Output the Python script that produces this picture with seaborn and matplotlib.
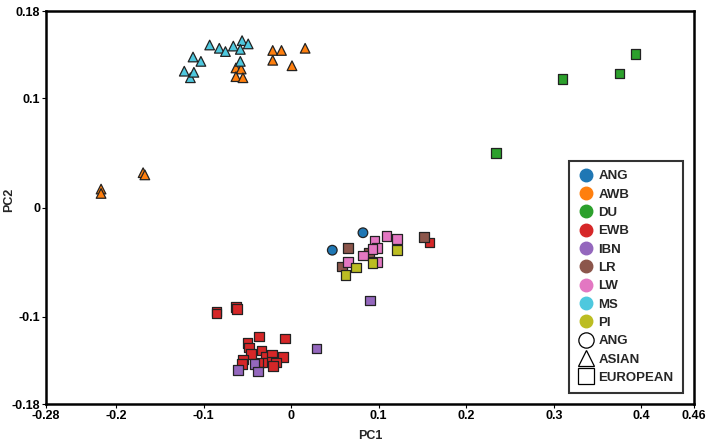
import matplotlib
matplotlib.use("Agg")
import matplotlib.pyplot as plt
from matplotlib.lines import Line2D
import pandas as pd
import seaborn as sns

# breed order and colours as in the legend
breeds = ["ANG", "AWB", "DU", "EWB", "IBN", "LR", "LW", "MS", "PI"]
colors = ["#1f77b4", "#ff7f0e", "#2ca02c", "#d62728", "#9467bd",
          "#8c564b", "#e377c2", "#4ec8de", "#bcbd22"]
origin = {"ANG": "ANG", "AWB": "ASIAN", "MS": "ASIAN", "DU": "EUROPEAN",
          "EWB": "EUROPEAN", "IBN": "EUROPEAN", "LR": "EUROPEAN",
          "LW": "EUROPEAN", "PI": "EUROPEAN"}
origins = ["ANG", "ASIAN", "EUROPEAN"]
markers = {"ANG": "o", "ASIAN": "^", "EUROPEAN": "s"}

# PC1 / PC2
ang_pc1 = [0.082, 0.047]
ang_pc2 = [-0.023, -0.039]
awb_pc1 = [-0.217, -0.217, -0.169, -0.167, -0.021, -0.011, 0.016, -0.021,
           0.001, -0.063, -0.057, -0.063, -0.055]
awb_pc2 = [0.017, 0.013, 0.032, 0.030, 0.144, 0.144, 0.146, 0.135,
           0.130, 0.128, 0.127, 0.120, 0.119]
du_pc1 = [0.393, 0.375, 0.310, 0.234]
du_pc2 = [0.141, 0.123, 0.118, 0.050]
ewb_pc1 = [-0.085, -0.085, -0.063, -0.062, -0.037, -0.050, -0.048, -0.007,
           -0.034, -0.046, -0.055, -0.056, -0.029, -0.022, -0.009, -0.035,
           -0.027, -0.022, -0.017, -0.021, 0.158]
ewb_pc2 = [-0.095, -0.097, -0.091, -0.093, -0.118, -0.124, -0.128, -0.120,
           -0.131, -0.134, -0.139, -0.143, -0.137, -0.135, -0.137, -0.142,
           -0.142, -0.141, -0.142, -0.145, -0.032]
ibn_pc1 = [0.029, -0.061, -0.042, -0.038, 0.090]
ibn_pc2 = [-0.129, -0.149, -0.143, -0.150, -0.085]
lr_pc1 = [0.065, 0.058, 0.152, 0.089]
lr_pc2 = [-0.037, -0.054, -0.027, -0.041]
lw_pc1 = [0.095, 0.109, 0.121, 0.098, 0.093, 0.082, 0.065, 0.098]
lw_pc2 = [-0.030, -0.026, -0.029, -0.037, -0.038, -0.044, -0.050, -0.050]
ms_pc1 = [-0.093, -0.082, -0.075, -0.066, -0.056, -0.049, -0.058, -0.112,
          -0.103, -0.122, -0.115, -0.111, -0.058]
ms_pc2 = [0.149, 0.146, 0.143, 0.148, 0.153, 0.150, 0.145, 0.138,
          0.134, 0.125, 0.119, 0.124, 0.134]
pi_pc1 = [0.121, 0.074, 0.093, 0.062]
pi_pc2 = [-0.039, -0.055, -0.051, -0.062]

xticks = [-0.28, -0.2, -0.1, 0, 0.1, 0.2, 0.3, 0.4, 0.46]
xtick_labels = ["-0.28", "-0.2", "-0.1", "0", "0.1", "0.2", "0.3", "0.4", "0.46"]
yticks = [-0.18, -0.1, 0, 0.1, 0.18]
ytick_labels = ["-0.18", "-0.1", "0", "0.1", "0.18"]

pts = {"ANG": (ang_pc1, ang_pc2), "AWB": (awb_pc1, awb_pc2),
       "DU": (du_pc1, du_pc2), "EWB": (ewb_pc1, ewb_pc2),
       "IBN": (ibn_pc1, ibn_pc2), "LR": (lr_pc1, lr_pc2),
       "LW": (lw_pc1, lw_pc2), "MS": (ms_pc1, ms_pc2), "PI": (pi_pc1, pi_pc2)}
rows = []
for b in breeds:
    for x, y in zip(*pts[b]):
        rows.append({"PC1": x, "PC2": y, "breed": b, "origin": origin[b]})
df = pd.DataFrame(rows)

sns.set_style("white")
plt.rcParams["font.family"] = ["Liberation Sans", "DejaVu Sans"]
plt.rcParams["font.weight"] = "bold"

fig = plt.figure(figsize=(7.06, 4.47), dpi=100)
ax = fig.add_axes([0.065, 0.096, 0.918, 0.879])

sns.scatterplot(data=df, x="PC1", y="PC2", hue="breed", style="origin",
                hue_order=breeds, palette=colors, style_order=origins,
                markers=markers, s=48, edgecolor="#222222", linewidth=0.9,
                legend=False, ax=ax, zorder=3)

ax.set_xlim(-0.28, 0.46)
ax.set_ylim(-0.18, 0.18)
ax.set_xticks(xticks)
ax.set_xticklabels(xtick_labels)
ax.set_yticks(yticks)
ax.set_yticklabels(ytick_labels)
ax.tick_params(axis="both", which="both", direction="out", length=3,
               width=0.8, labelsize=9, pad=1, bottom=True, left=True,
               colors="black")
ax.set_xlabel("PC1", fontsize=9, fontweight="bold", labelpad=6)
ax.set_ylabel("PC2", fontsize=9, fontweight="bold")
ax.yaxis.set_label_coords(-0.048, 0.519)
for sp in ax.spines.values():
    sp.set_visible(True)
    sp.set_color("black")
    sp.set_linewidth(1.8)

handles = []
for b, c in zip(breeds, colors):
    handles.append(Line2D([], [], marker="o", linestyle="", markersize=9,
                          markerfacecolor=c, markeredgecolor=c, label=b))
for o in origins:
    handles.append(Line2D([], [], marker=markers[o], linestyle="",
                          markersize=11, markerfacecolor="white",
                          markeredgecolor="black", markeredgewidth=0.9,
                          label=o))
leg = ax.legend(handles=handles, loc="lower right",
                bbox_to_anchor=(0.983, 0.028), borderaxespad=0,
                fancybox=False, frameon=True, labelspacing=0.46,
                handletextpad=0.35, handlelength=1.2, borderpad=0.7,
                prop={"size": 9.5, "weight": "bold"})
leg.get_frame().set_edgecolor("black")
leg.get_frame().set_linewidth(1.5)

fig.savefig("out.png", dpi=100)
